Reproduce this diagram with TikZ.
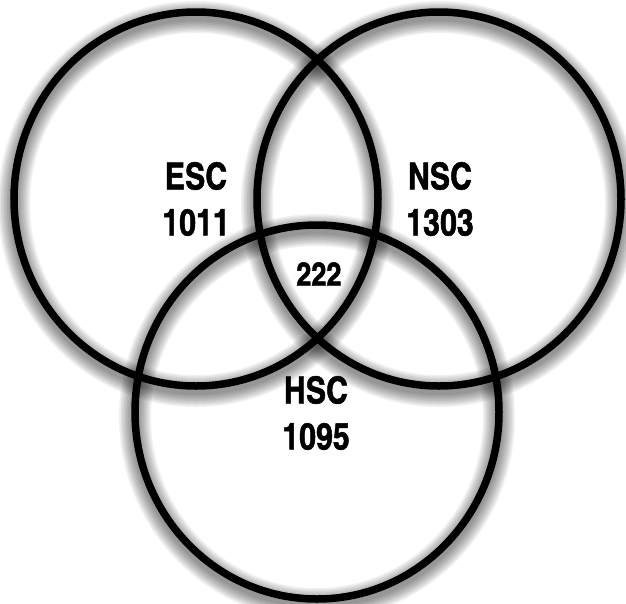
\documentclass[tikz,border=0pt]{standalone}
\usepackage{fontspec}
\usepackage{tikz}
\newfontfamily\vennfont{texgyreheroscn-bold.otf}[FakeBold=1.3]
\definecolor{ringColor}{HTML}{000000}

\begin{document}
\begin{tikzpicture}[x=1pt, y=-1pt,
    ring/.style={ringColor, line width=7.5pt},
    ringshadow/.style={black, opacity=0.055},
    setlabel/.style={font=\vennfont\fontsize{37}{46}\selectfont, align=center, inner sep=0pt},
    corelabel/.style={font=\vennfont\fontsize{33}{40}\selectfont, inner sep=0pt}]
    \useasboundingbox[fill=white] (0,0) rectangle (626,603);
    \coordinate (esc) at (196,199);
    \coordinate (nsc) at (439,199);
    \coordinate (hsc) at (317,412);
    % soft shadows first
    \foreach \n in {esc,nsc,hsc}
        \foreach \w in {8,11,...,32}
            \draw[ringshadow, line width=\w pt] ([yshift=-5pt]\n) ellipse [x radius=182, y radius=187];
    \foreach \n in {esc,nsc,hsc}
        \draw[ring] (\n) ellipse [x radius=182, y radius=187];
    \node[setlabel] (esclabel) at (196,199) {ESC\\1011};
    \node[setlabel] (nsclabel) at (440,199) {NSC\\1303};
    \node[setlabel] (hsclabel) at (316,413) {HSC\\1095};
    \node[corelabel] (core) at (319,274) {222};
\end{tikzpicture}
\end{document}
